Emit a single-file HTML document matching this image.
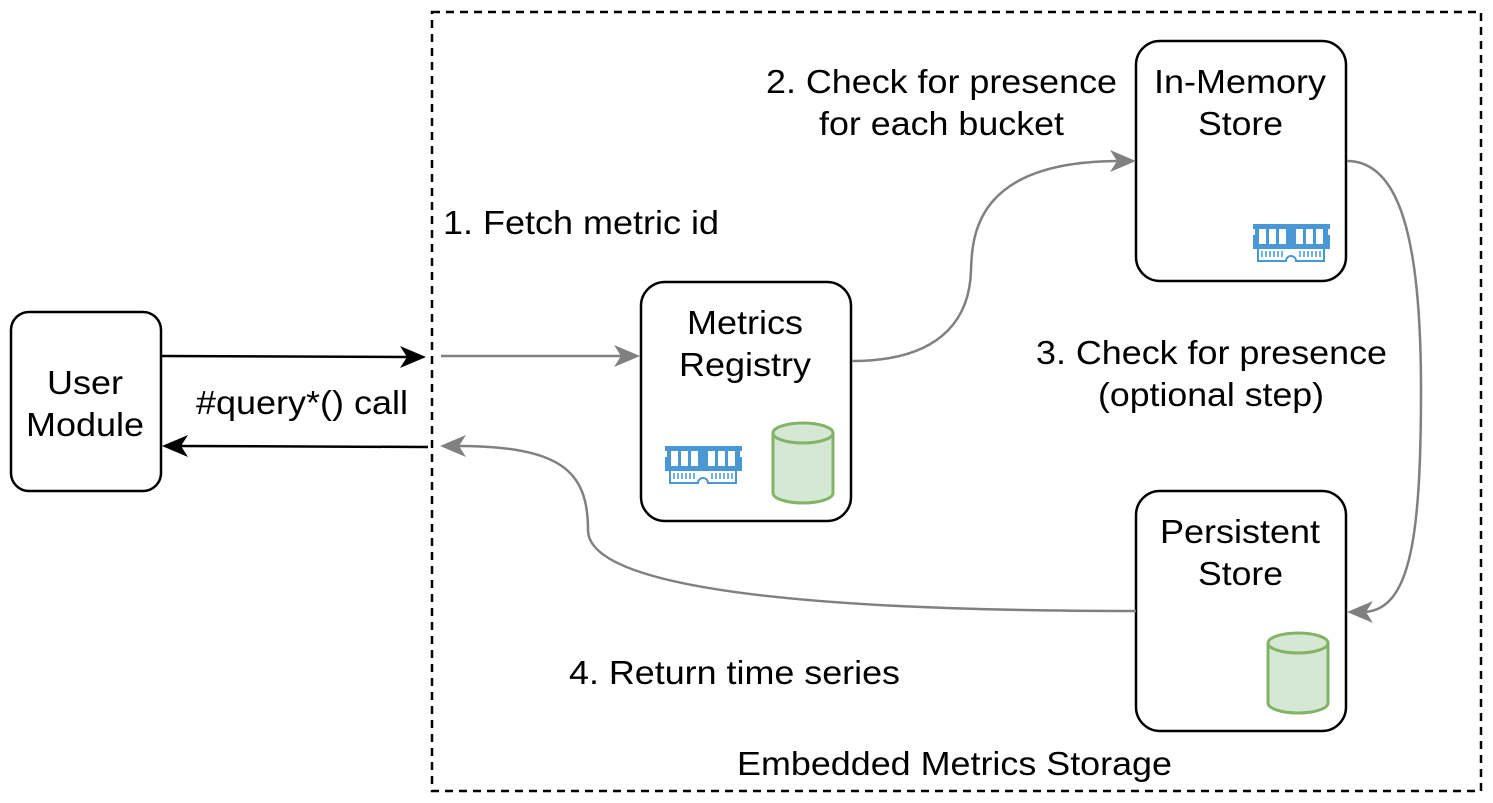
<!DOCTYPE html>
<html><head><meta charset="utf-8"><style>
html,body{margin:0;padding:0;background:#fff;}
svg{display:block;}
text{font-family:"Liberation Sans",sans-serif;font-size:33px;fill:#000;}
</style></head><body>
<svg width="1493" height="803" viewBox="0 0 1493 803" xmlns="http://www.w3.org/2000/svg">
<defs>
<g id="ram">
 <path d="M0,3 h77 v5 h-2 v6 h2 v14 h-77 v-14 h2 v-6 h-2 z" fill="#4a97d6"/>
 <rect x="6" y="8" width="7" height="15" fill="#fff"/>
 <rect x="16" y="8" width="7" height="15" fill="#fff"/>
 <rect x="26" y="8" width="7" height="15" fill="#fff"/>
 <rect x="43" y="8" width="7" height="15" fill="#fff"/>
 <rect x="53" y="8" width="7" height="15" fill="#fff"/>
 <rect x="63" y="8" width="7" height="15" fill="#fff"/>
 <path d="M5,28 v12 h28 a5,5 0 0 1 10,0 h28 v-12" fill="none" stroke="#4a97d6" stroke-width="2"/>
 <path d="M9,30 v6 M13,30 v6 M17,30 v6 M21,30 v6 M25,30 v6 M29,30 v6 M47,30 v6 M51,30 v6 M55,30 v6 M59,30 v6 M63,30 v6 M67,30 v6" stroke="#4a97d6" stroke-width="1.5"/>
</g>
<g id="cyl">
 <path d="M0,10 v60 a30,10 0 0 0 60,0 v-60" fill="#d5e8d4" stroke="#82b366" stroke-width="3"/>
 <ellipse cx="30" cy="10" rx="30" ry="10" fill="#d5e8d4" stroke="#82b366" stroke-width="3"/>
</g>
</defs>
<rect x="432" y="12" width="1049" height="779" fill="none" stroke="#000" stroke-width="2.5" stroke-dasharray="8,6"/>
<rect x="11" y="312" width="150" height="179" rx="18" fill="#fff" stroke="#000" stroke-width="2.5"/>
<text x="47" y="394" textLength="76" lengthAdjust="spacingAndGlyphs">User</text>
<text x="26" y="436" textLength="118" lengthAdjust="spacingAndGlyphs">Module</text>
<rect x="641" y="282" width="210" height="239" rx="24" fill="#fff" stroke="#000" stroke-width="2.5"/>
<text x="687" y="334" textLength="116" lengthAdjust="spacingAndGlyphs">Metrics</text>
<text x="679" y="376" textLength="132" lengthAdjust="spacingAndGlyphs">Registry</text>
<use href="#ram" x="665" y="443"/>
<use href="#cyl" x="773" y="423"/>
<rect x="1136" y="41" width="210" height="240" rx="24" fill="#fff" stroke="#000" stroke-width="2.5"/>
<text x="1154" y="93" textLength="172" lengthAdjust="spacingAndGlyphs">In-Memory</text>
<text x="1198" y="135" textLength="85" lengthAdjust="spacingAndGlyphs">Store</text>
<use href="#ram" x="1253" y="221"/>
<rect x="1136" y="491" width="210" height="240" rx="24" fill="#fff" stroke="#000" stroke-width="2.5"/>
<text x="1160" y="543" textLength="160" lengthAdjust="spacingAndGlyphs">Persistent</text>
<text x="1198" y="585" textLength="85" lengthAdjust="spacingAndGlyphs">Store</text>
<use href="#cyl" x="1268" y="633"/>
<line x1="162" y1="356" x2="410" y2="357" stroke="#000" stroke-width="2.5"/>
<path d="M426,357 l-26,-11 l7,11 l-7,11 z" fill="#000"/>
<line x1="428" y1="447" x2="180" y2="446" stroke="#000" stroke-width="2.5"/>
<path d="M162,446 l26,-11 l-7,11 l7,11 z" fill="#000"/>
<text x="196" y="414" textLength="212" lengthAdjust="spacingAndGlyphs">#query*() call</text>
<g stroke="#808080" stroke-width="2.5" fill="none">
<line x1="441" y1="356" x2="625" y2="356"/>
<path d="M852,361 C950,361 970,310 971,270 C972,230 980,161 1120,161"/>
<path d="M1347,161 C1400,161 1421,240 1421,390 C1421,540 1410,612 1362,612"/>
<path d="M1136,611 C900,611 588,600 588,530 C588,470 560,446 456,446"/>
</g>
<g fill="#808080">
<path d="M640,356 l-26,-11 l7,11 l-7,11 z"/>
<path d="M1136,161 l-26,-11 l7,11 l-7,11 z"/>
<path d="M1347,612 l26,-11 l-7,11 l7,11 z"/>
<path d="M440,446 l26,-11 l-7,11 l7,11 z"/>
</g>
<text x="443" y="234" textLength="276" lengthAdjust="spacingAndGlyphs">1. Fetch metric id</text>
<text x="766" y="93" textLength="351" lengthAdjust="spacingAndGlyphs">2. Check for presence</text>
<text x="819" y="135" textLength="245" lengthAdjust="spacingAndGlyphs">for each bucket</text>
<text x="1036" y="364" textLength="351" lengthAdjust="spacingAndGlyphs">3. Check for presence</text>
<text x="1098" y="406" textLength="226" lengthAdjust="spacingAndGlyphs">(optional step)</text>
<text x="569" y="684" textLength="331" lengthAdjust="spacingAndGlyphs">4. Return time series</text>
<text x="737" y="775" textLength="435" lengthAdjust="spacingAndGlyphs">Embedded Metrics Storage</text>
</svg>
</body></html>
